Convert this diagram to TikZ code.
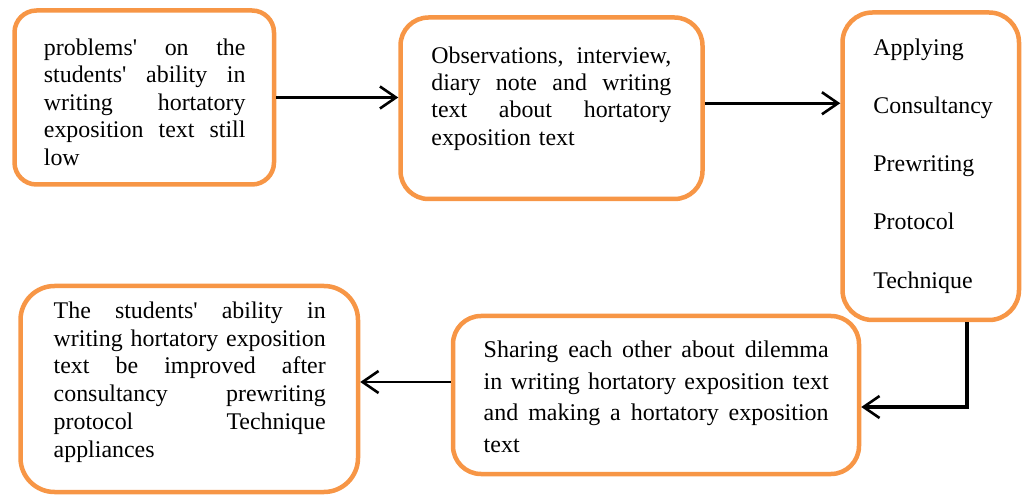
\documentclass[tikz,border=0pt]{standalone}
\usepackage{fontspec}
\setmainfont{Liberation Serif}[Ligatures=TeXOff]
\usetikzlibrary{arrows.meta}
\definecolor{boxorange}{RGB}{247,150,70}
\newcommand\jl[2]{\leavevmode\hbox to #1{#2}}
\newcommand\tstrut{\rule{0pt}{9pt}}
\begin{document}
\begin{tikzpicture}[x=0.5pt,y=-0.5pt,
  flowbox/.style={draw=boxorange, line width=2.25pt, rectangle, inner sep=0pt, fill=white},
  txt/.style={anchor=north west, inner sep=0pt, align=left},
  conn/.style={line width=1.3pt, -{Straight Barb[length=8pt,width=11pt,line width=1.3pt]}}]
\useasboundingbox (0,0) rectangle (1023,497);
% boxes
\node[flowbox, rounded corners=11pt, minimum width=129.75pt, minimum height=87pt] (b1) at (144.25,97.5) {};
\node[flowbox, rounded corners=14pt, minimum width=151pt, minimum height=90.75pt] (b2) at (551.5,108.25) {};
\node[flowbox, rounded corners=15pt, minimum width=88.25pt, minimum height=153.75pt] (b3) at (930.75,166.25) {};
\node[flowbox, rounded corners=14pt, minimum width=203pt, minimum height=79pt] (b4) at (656,395) {};
\node[flowbox, rounded corners=17pt, minimum width=168.75pt, minimum height=103pt] (b5) at (189.25,389) {};
% texts
\node[txt, text width=100.8pt, font=\fontsize{11.95pt}{13.75pt}\selectfont] (t1) at (43.5,37) {\noindent\tstrut\jl{100.8pt}{problems'\hfill on\hfill the}\\
\jl{100.8pt}{students'\hfill ability\hfill in}\\
\jl{100.8pt}{writing\hfill hortatory}\\
\jl{100.8pt}{exposition\hfill text\hfill still}\\
low};
\node[txt, text width=120pt, font=\fontsize{11.95pt}{13.65pt}\selectfont] (t2) at (431,45) {\noindent\tstrut\jl{120pt}{Observations,\hfill interview,}\\
\jl{120pt}{diary\hfill note\hfill and\hfill writing}\\
\jl{120pt}{text\hfill about\hfill hortatory}\\
exposition text};
\node[txt, text width=80pt, font=\fontsize{11.95pt}{29.1pt}\selectfont] (t3) at (873,37) {\noindent\tstrut Applying\\
Consultancy\\
Prewriting\\
Protocol\\
Technique};
\node[txt, text width=172.5pt, font=\fontsize{12pt}{15.85pt}\selectfont] (t4) at (483.3,339) {\noindent\tstrut\jl{172.5pt}{Sharing\hfill each\hfill other\hfill about\hfill dilemma}\\
\jl{172.5pt}{in\hfill writing\hfill hortatory\hfill exposition\hfill text}\\
\jl{172.5pt}{and\hfill making\hfill a\hfill hortatory\hfill exposition}\\
text};
\node[txt, text width=136pt, font=\fontsize{11.95pt}{13.9pt}\selectfont] (t5) at (53.3,300) {\noindent\tstrut\jl{136pt}{The\hfill students'\hfill ability\hfill in}\\
\jl{136pt}{writing\hfill hortatory\hfill exposition}\\
\jl{136pt}{text\hfill be\hfill improved\hfill after}\\
\jl{136pt}{consultancy\hfill prewriting}\\
\jl{136pt}{protocol\hfill Technique}\\
appliances};
% connectors
\coordinate (a2) at ([yshift=2.5pt]b2.east);
\coordinate (c3s) at ([xshift=18.1pt]b3.south);
\coordinate (c4e) at ([yshift=-6pt]b4.east);
\coordinate (c4w) at ([yshift=6.5pt]b4.west);
\draw[conn] (b1.east) -- (b1.east -| b2.west);
\draw[conn] (a2) -- (a2 -| b3.west);
\draw[conn, line width=1.6pt] (c3s) |- (c4e);
\draw[conn] (c4w) -- (c4w -| b5.east);
\end{tikzpicture}
\end{document}
